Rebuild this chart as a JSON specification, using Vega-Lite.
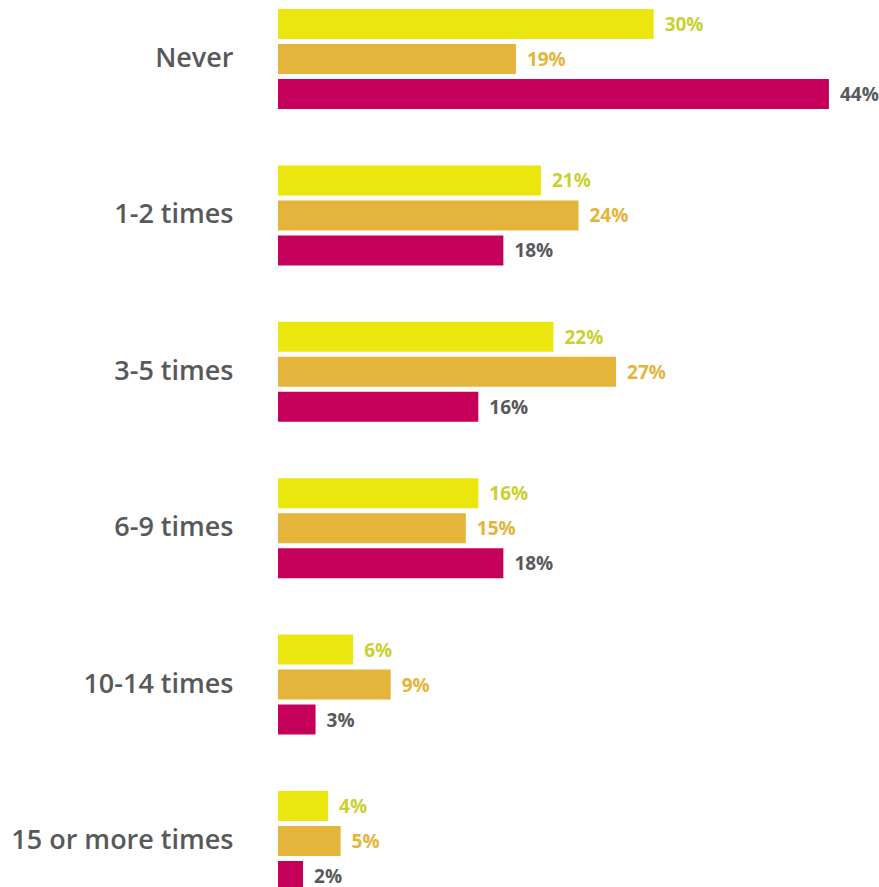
{
  "$schema": "https://vega.github.io/schema/vega-lite/v6.json",
  "autosize": {"type": "none"},
  "padding": {"left": 278, "top": 0, "right": 0, "bottom": 0},
  "width": 601,
  "height": 900,
  "background": "white",
  "config": {"view": {"stroke": null}},
  "data": {
    "values": [
      {"category": "Never", "series": "S1", "value": 30},
      {"category": "Never", "series": "S2", "value": 19},
      {"category": "Never", "series": "S3", "value": 44},
      {"category": "1-2 times", "series": "S1", "value": 21},
      {"category": "1-2 times", "series": "S2", "value": 24},
      {"category": "1-2 times", "series": "S3", "value": 18},
      {"category": "3-5 times", "series": "S1", "value": 22},
      {"category": "3-5 times", "series": "S2", "value": 27},
      {"category": "3-5 times", "series": "S3", "value": 16},
      {"category": "6-9 times", "series": "S1", "value": 16},
      {"category": "6-9 times", "series": "S2", "value": 15},
      {"category": "6-9 times", "series": "S3", "value": 18},
      {"category": "10-14 times", "series": "S1", "value": 6},
      {"category": "10-14 times", "series": "S2", "value": 9},
      {"category": "10-14 times", "series": "S3", "value": 3},
      {"category": "15 or more times", "series": "S1", "value": 4},
      {"category": "15 or more times", "series": "S2", "value": 5},
      {"category": "15 or more times", "series": "S3", "value": 2}
    ]
  },
  "encoding": {
    "y": {
      "field": "category",
      "type": "nominal",
      "sort": ["Never", "1-2 times", "3-5 times", "6-9 times", "10-14 times", "15 or more times"],
      "scale": {"paddingInner": 0.36, "paddingOuter": 0.0575},
      "axis": {
        "title": null,
        "domain": false,
        "ticks": false,
        "labelPadding": 45,
        "labelFont": "Open Sans",
        "labelFontSize": 27,
        "labelFontWeight": 600,
        "labelColor": "#58595B",
        "labelLimit": 400
      }
    },
    "yOffset": {
      "field": "series",
      "type": "nominal",
      "sort": ["S1", "S2", "S3"],
      "scale": {"paddingInner": 0.143, "paddingOuter": 0}
    },
    "x": {
      "field": "value",
      "type": "quantitative",
      "scale": {"domain": [0, 48]},
      "axis": null
    }
  },
  "layer": [
    {
      "mark": {"type": "bar"},
      "encoding": {
        "color": {
          "field": "series",
          "type": "nominal",
          "scale": {"domain": ["S1", "S2", "S3"], "range": ["#EBE70E", "#E5B43A", "#C4005A"]},
          "legend": null
        }
      }
    },
    {
      "transform": [{"calculate": "datum.value + '%'", "as": "label"}],
      "mark": {"type": "text", "align": "left", "baseline": "middle", "dx": 11, "dy": 1, "font": "Open Sans", "fontSize": 19, "fontWeight": "bold"},
      "encoding": {
        "text": {"field": "label", "type": "nominal"},
        "color": {
          "field": "series",
          "type": "nominal",
          "scale": {"domain": ["S1", "S2", "S3"], "range": ["#C9D131", "#E5B43A", "#58595B"]},
          "legend": null
        }
      }
    }
  ],
  "resolve": {"scale": {"color": "independent"}}
}
